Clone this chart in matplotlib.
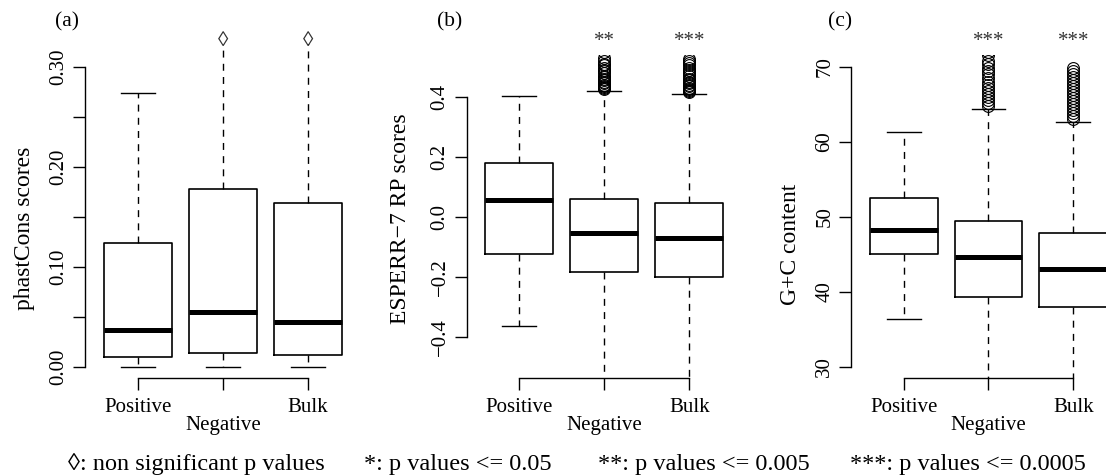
import matplotlib
matplotlib.use('Agg')
import matplotlib.pyplot as plt
from matplotlib.transforms import blended_transform_factory

plt.rcParams['font.family'] = ['Liberation Serif', 'DejaVu Serif']
plt.rcParams['axes.unicode_minus'] = True

W, H = 1106, 475

categories = ['Positive', 'Negative', 'Bulk']

# ---- panel (a): phastCons scores ----
a_q1 = [0.0093, 0.0137, 0.0120]
a_med = [0.037, 0.055, 0.045]
a_q3 = [0.1237, 0.178, 0.164]
a_lo = [0.0, 0.0, 0.0]
a_hi = [0.274, 0.35, 0.35]
a_fliers = [[], [], []]
a_marks = ['', '\u25ca', '\u25ca']
a_yticks = [0.00, 0.05, 0.10, 0.15, 0.20, 0.25, 0.30]
a_yticklabels = ['0.00', '', '0.10', '', '0.20', '', '0.30']

# ---- panel (b): ESPERR-7 RP scores ----
b_q1 = [-0.124, -0.183, -0.201]
b_med = [0.0545, -0.053, -0.070]
b_q3 = [0.178, 0.058, 0.044]
b_lo = [-0.364, -0.62, -0.62]
b_hi = [0.401, 0.420, 0.410]
b_fliers = [
    [],
    [0.425, 0.428, 0.432, 0.436, 0.440, 0.445, 0.450, 0.455, 0.460, 0.465,
     0.470, 0.478, 0.485, 0.490, 0.497, 0.505, 0.510, 0.520, 0.530, 0.550],
    [0.414, 0.418, 0.422, 0.426, 0.430, 0.435, 0.440, 0.445, 0.450, 0.455,
     0.460, 0.468, 0.475, 0.482, 0.490, 0.497, 0.505, 0.512, 0.520, 0.525],
]
b_marks = ['', '**', '***']
b_yticks = [-0.4, -0.2, 0.0, 0.2, 0.4]
b_yticklabels = ['\u22120.4', '\u22120.2', '0.0', '0.2', '0.4']

# ---- panel (c): G+C content ----
c_q1 = [45.0, 39.3, 37.9]
c_med = [48.2, 44.6, 43.0]
c_q3 = [52.5, 49.4, 47.8]
c_lo = [36.4, 25.0, 25.0]
c_hi = [61.3, 64.4, 62.6]
c_fliers = [
    [],
    [64.8, 65.2, 65.6, 66.0, 66.4, 66.8, 67.2, 67.6, 68.0, 68.5,
     69.0, 69.4, 69.8, 70.3, 70.8, 71.5, 72.0],
    [63.0, 63.4, 63.8, 64.2, 64.6, 65.0, 65.4, 65.8, 66.2, 66.6,
     67.0, 67.4, 67.8, 68.2, 68.6, 69.0, 69.4, 69.8],
]
c_marks = ['', '***', '***']
c_yticks = [30, 40, 50, 60, 70]
c_yticklabels = ['30', '40', '50', '60', '70']

ylabels = ['phastCons scores', 'ESPERR\u22127 RP scores', 'G+C content']
panel_tags = ['(a)', '(b)', '(c)']
legend_texts = ['\u25ca: non significant p values', '*: p values <= 0.05',
                '**: p values <= 0.005', '***: p values <= 0.0005']

# layout (pixels)
panels = [
    dict(left=85.3, right=360.7, top=44, ylim=(-0.0113, 0.3227)),
    dict(left=466.5, right=742.0, top=55, ylim=(-0.5377, 0.539)),
    dict(left=851.0, right=1126.0, top=55, ylim=(28.49, 71.56)),
]
bottom_px = 378
ylabel_pos = [(25, 228), (400, 219), (790, 244)]
tag_pos = [(67, 22), (450, 22), (840, 22)]
legend_x = [68, 364, 598, 850]

fig = plt.figure(figsize=(W / 100, H / 100), dpi=100)

def fy(py):
    return 1 - py / H

def fx(px):
    return px / W

data = [
    (a_q1, a_med, a_q3, a_lo, a_hi, a_fliers, a_marks, a_yticks, a_yticklabels),
    (b_q1, b_med, b_q3, b_lo, b_hi, b_fliers, b_marks, b_yticks, b_yticklabels),
    (c_q1, c_med, c_q3, c_lo, c_hi, c_fliers, c_marks, c_yticks, c_yticklabels),
]

positions = [1, 2, 3]
for i, (q1, med, q3, lo, hi, fl, marks, yt, ytl) in enumerate(data):
    p = panels[i]
    ax = fig.add_axes([fx(p['left']), fy(bottom_px), (p['right'] - p['left']) / W,
                       (bottom_px - p['top']) / H])
    stats = []
    for k in range(3):
        stats.append(dict(med=med[k], q1=q1[k], q3=q3[k], whislo=lo[k], whishi=hi[k],
                          fliers=fl[k], label=categories[k]))
    ax.bxp(stats, positions=positions, widths=0.8, capwidths=0.4, showfliers=True,
           boxprops=dict(color='black', linewidth=1.2),
           medianprops=dict(color='black', linewidth=3.6, solid_capstyle='butt'),
           whiskerprops=dict(color='black', linewidth=1.0, linestyle=(0, (5, 4.5))),
           capprops=dict(color='black', linewidth=1.0),
           flierprops=dict(marker='o', markerfacecolor='none', markeredgecolor='black',
                           markersize=8.5, markeredgewidth=0.8))
    ax.set_xlim(0.38, 3.62)
    ax.set_ylim(*p['ylim'])
    for s in ['top', 'right']:
        ax.spines[s].set_visible(False)
    ax.spines['left'].set_bounds(yt[0], yt[-1])
    ax.spines['bottom'].set_bounds(1, 3)
    for s in ['left', 'bottom']:
        ax.spines[s].set_linewidth(1.0)
    ax.set_yticks(yt)
    ax.set_yticklabels(ytl, rotation=90, va='center', fontsize=15)
    ax.set_xticks(positions)
    ax.set_xticklabels(categories, fontsize=15)
    ax.tick_params(axis='both', direction='out', length=8.6, width=1.0)
    ax.tick_params(axis='y', pad=3.5)
    ticks = ax.xaxis.get_major_ticks()
    for k, t in enumerate(ticks):
        t.set_pad(19 if k == 1 else 5.5)
    ax.patch.set_visible(False)
    tr = blended_transform_factory(ax.transData, fig.transFigure)
    for k, m in enumerate(marks):
        if m:
            ax.text(positions[k], fy(42), m, transform=tr, ha='center', va='center',
                    fontsize=15, color='#333333')
    fig.text(fx(ylabel_pos[i][0]), fy(ylabel_pos[i][1]), ylabels[i], rotation=90,
             ha='center', va='center', fontsize=17)
    fig.text(fx(tag_pos[i][0]), fy(tag_pos[i][1]), panel_tags[i], ha='center',
             va='center', fontsize=15.5)

for x, t in zip(legend_x, legend_texts):
    fig.text(fx(x), fy(470), t, ha='left', va='baseline', fontsize=17.5)

fig.savefig('out.png', dpi=100)
